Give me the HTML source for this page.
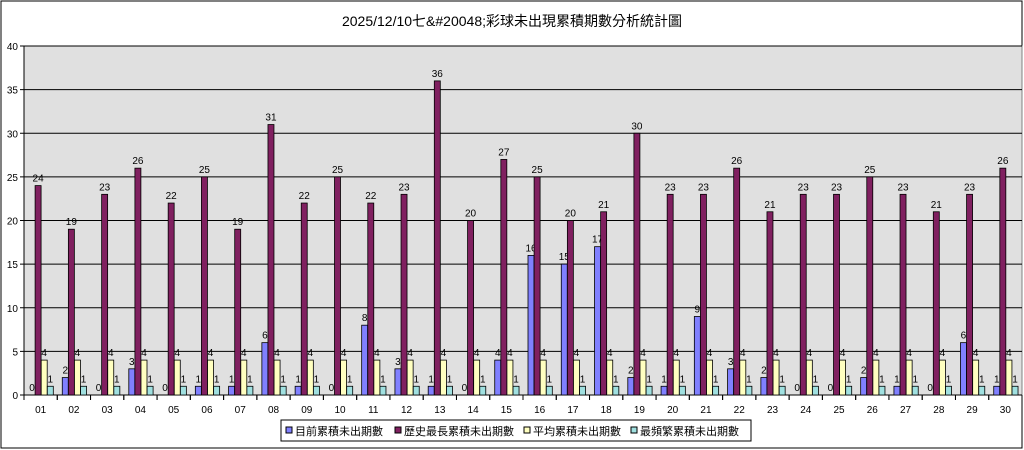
<!DOCTYPE html><html><head><meta charset="utf-8"><style>body{margin:0;background:#fff}svg{display:block}text{font-family:"Liberation Sans","Noto Sans CJK TC",sans-serif}</style></head><body>
<svg id="s" width="1024" height="450" xmlns="http://www.w3.org/2000/svg"></svg>
<script>
const cur=[0,2,0,3,0,1,1,6,1,0,8,3,1,0,4,16,15,17,2,1,9,3,2,0,0,2,1,0,6,1];
const mx=[24,19,23,26,22,25,19,31,22,25,22,23,36,20,27,25,20,21,30,23,23,26,21,23,23,25,23,21,23,26];
const cols=['#8080ff','#802060','#ffffc0','#a0e0e0'];
let h='<rect x="1" y="1" width="1021" height="447" fill="#fff" stroke="#000"/>';
h+='<text x="512" y="26" font-size="14" text-anchor="middle">2025/12/10七&amp;#20048;彩球未出現累積期數分析統計圖</text>';
const L=24,R=1022,T=46,B=395,gw=(R-L)/30,py=(B-T)/40;
h+=`<rect x="${L}" y="${T}" width="${R-L}" height="${B-T}" fill="#e0e0e0" stroke="#808080"/>`;
for(let v=0;v<=40;v+=5){const y=B-v*py;h+=`<line x1="${L}" x2="${R}" y1="${y}" y2="${y}" stroke="#000"/><line x1="${L-4}" x2="${L}" y1="${y}" y2="${y}" stroke="#000"/><text x="${L-6}" y="${y+4}" font-size="10" text-anchor="end">${v}</text>`;}
h+=`<line x1="${L}" x2="${L}" y1="${T}" y2="${B}" stroke="#000"/>`;
for(let i=0;i<30;i++){const gx=L+i*gw;h+=`<line x1="${gx+gw}" x2="${gx+gw}" y1="${B}" y2="${B+5}" stroke="#000"/><line x1="${gx}" x2="${gx}" y1="${B}" y2="${B+5}" stroke="#000"/>`;
h+=`<text x="${gx+gw/2}" y="${B+18}" font-size="10" text-anchor="middle">${String(i+1).padStart(2,'0')}</text>`;
const vals=[cur[i],mx[i],4,1];
vals.forEach((v,k)=>{const x=gx+5+k*6.1,y=B-v*py;if(v>0)h+=`<rect x="${x}" y="${y}" width="6" height="${v*py}" fill="${cols[k]}" stroke="#000" stroke-width="0.8"/>`;
h+=`<text x="${x+3}" y="${y-4}" font-size="10" text-anchor="middle">${v}</text>`;});}
h+='<rect x="281" y="420" width="470" height="21" fill="#fff" stroke="#000"/>';
const lg=[['目前累積未出期數',286],['歷史最長累積未出期數',395],['平均累積未出期數',524],['最頻繁累積未出期數',631]];
lg.forEach((l,k)=>{h+=`<rect x="${l[1]}" y="427" width="6" height="6" fill="${cols[k]}" stroke="#000"/><text x="${l[1]+9}" y="435" font-size="11">${l[0]}</text>`;});
document.getElementById('s').innerHTML=h;
</script></body></html>
